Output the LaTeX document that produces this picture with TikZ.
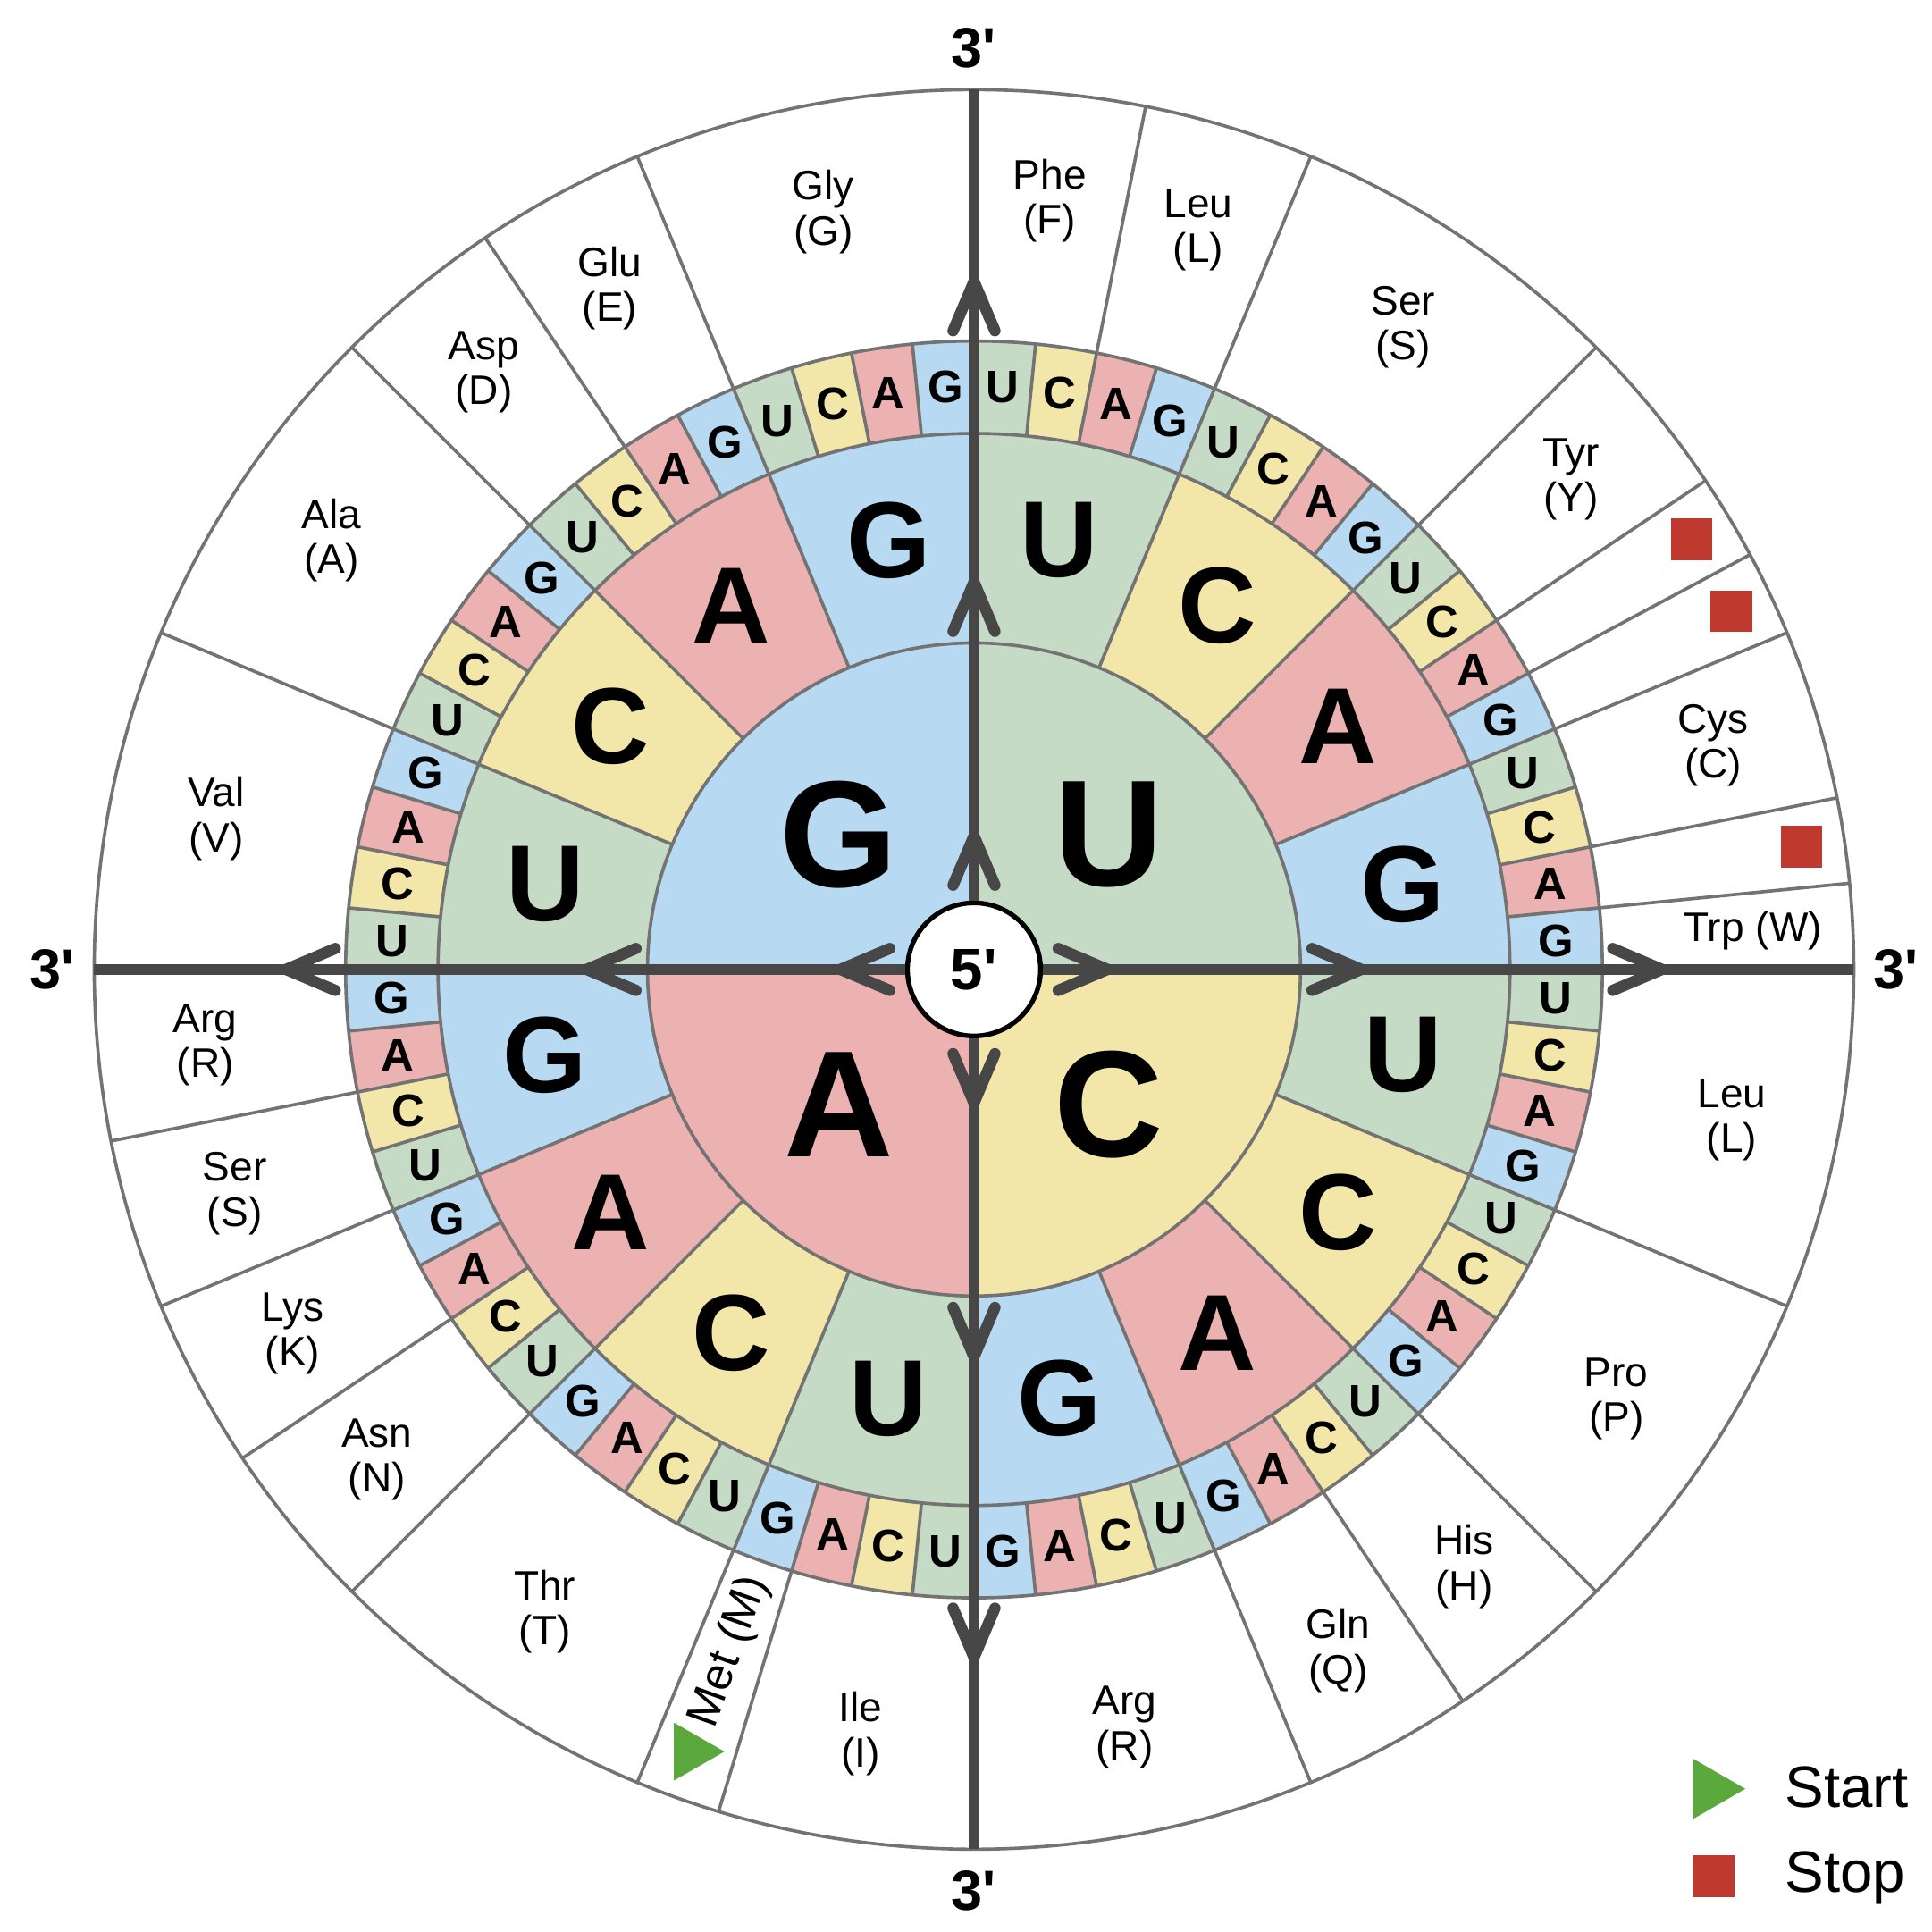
\documentclass[tikz,border=0pt]{standalone}
\usepackage{fontspec}
\setmainfont{Liberation Sans}[Ligatures=TeXOff]
\usetikzlibrary{arrows.meta, decorations.markings}

\definecolor{cU}{HTML}{C6DBC6}
\definecolor{cC}{HTML}{F2E6A9}
\definecolor{cA}{HTML}{ECB1B1}
\definecolor{cG}{HTML}{B8D9F2}
\definecolor{linegray}{HTML}{737373}
\definecolor{axisgray}{HTML}{474747}
\definecolor{stopred}{HTML}{C0392F}
\definecolor{startgreen}{HTML}{5BA83C}

\tikzset{chev/.tip={Straight Barb[length=4mm, width=3.4mm, round]}}

\begin{document}
\begin{tikzpicture}[
  ring/.style={draw=linegray, line width=0.75pt},
  firstletter/.style={font=\fontsize{35}{35}\selectfont\bfseries},
  secondletter/.style={font=\fontsize{25}{25}\selectfont\bfseries},
  thirdletter/.style={font=\fontsize{10.5}{10.5}\selectfont\bfseries},
  amino/.style={font=\fontsize{9.5}{10.4}\selectfont, align=center, inner sep=0pt},
  endlabel/.style={font=\fontsize{13}{13}\selectfont\bfseries},
  legendtext/.style={font=\fontsize{13.5}{13.5}\selectfont, anchor=base west, inner sep=0pt},
  stopmark/.style={fill=stopred, minimum size=0.34cm, inner sep=0pt},
  axisline/.style={draw=axisgray, line width=2.6pt, postaction={decorate},
    decoration={markings,
      mark=at position 0.57cm with {\arrow{chev}},
      mark=at position 2.63cm with {\arrow{chev}},
      mark=at position 5.07cm with {\arrow{chev}}}}
]
\useasboundingbox (-7.905,-7.812) rectangle (7.775,7.868);

% first base: quadrants
\foreach \b [count=\q from 0] in {U,C,A,G} {
  \pgfmathsetmacro\ang{90-90*\q}
  \fill[c\b] (0,0) -- (\ang:2.65) arc[start angle=\ang, delta angle=-90, radius=2.65] -- cycle;
}

% second and third base rings
\foreach \b [count=\q from 0] in {U,C,A,G}
  \foreach \s [count=\j from 0] in {U,C,A,G} {
    \pgfmathsetmacro\ang{90-90*\q-22.5*\j}
    \pgfmathsetmacro\angb{\ang-22.5}
    \fill[c\s] (\ang:2.65) arc[start angle=\ang, delta angle=-22.5, radius=2.65]
      -- (\angb:4.35) arc[start angle=\angb, delta angle=22.5, radius=4.35] -- cycle;
    \foreach \t [count=\k from 0] in {U,C,A,G} {
      \pgfmathsetmacro\angc{\ang-5.625*\k}
      \pgfmathsetmacro\angd{\angc-5.625}
      \fill[c\t] (\angc:4.35) arc[start angle=\angc, delta angle=-5.625, radius=4.35]
        -- (\angd:5.10) arc[start angle=\angd, delta angle=5.625, radius=5.10] -- cycle;
    }
  }

% ring borders
\draw[ring] (0,0) circle[radius=2.65] circle[radius=4.35] circle[radius=5.10] circle[radius=7.14];
\foreach \a in {0,22.5,...,337.5} \draw[ring] (\a:2.65) -- (\a:4.35);
\foreach \a in {0,5.625,...,354.4} \draw[ring] (\a:4.35) -- (\a:5.10);
\foreach \c in {0,11.25,22.5,45,56.25,61.875,67.5,78.75,84.375,90,112.5,135,146.25,157.5,
    180,196.875,202.5,225,236.25,247.5,258.75,270,292.5,315,326.25,337.5}
  \draw[ring] (90-\c:5.10) -- (90-\c:7.14);

% letters
\foreach \b [count=\q from 0] in {U,C,A,G} {
  \node[firstletter] (first-\b) at (45-90*\q:1.55) {\b};
  \foreach \s [count=\j from 0] in {U,C,A,G} {
    \pgfmathsetmacro\ang{90-90*\q-22.5*\j}
    \node[secondletter] (second-\b\s) at (\ang-11.25:3.55) {\s};
    \foreach \t [count=\k from 0] in {U,C,A,G}
      \node[thirdletter] (third-\b\s\t) at (\ang-5.625*\k-2.8125:4.73) {\t};
  }
}

% amino acids
\foreach \c/\txt [count=\n] in {5.625/Phe\\(F), 16.875/Leu\\(L), 33.75/Ser\\(S), 50.625/Tyr\\(Y),
    73.125/Cys\\(C), 101.25/Leu\\(L), 123.75/Pro\\(P), 140.625/His\\(H), 151.875/Gln\\(Q),
    168.75/Arg\\(R), 188.4375/Ile\\(I), 213.75/Thr\\(T), 230.625/Asn\\(N), 241.875/Lys\\(K),
    253.125/Ser\\(S), 264.375/Arg\\(R), 281.25/Val\\(V), 303.75/Ala\\(A), 320.625/Asp\\(D),
    331.875/Glu\\(E), 348.75/Gly\\(G)}
  \node[amino] (aa\n) at (90-\c:6.27) {\txt};
\node[amino] (trp) at (2.81:6.33) {Trp (W)};
\node[amino, font=\fontsize{10.5}{11}\selectfont, rotate=70.3] (met) at (90-199.69:5.88) {Met (M)};

% start and stop marks
\coordinate (metstart) at (90-199.4:6.73);
\fill[startgreen, shift={(metstart)}] (-0.2,0.235) -- (0.21,0) -- (-0.2,-0.235) -- cycle;
\node[stopmark] (stop1) at (30.94:6.79) {};
\node[stopmark] (stop2) at (25.31:6.80) {};
\node[stopmark] (stop3) at (8.44:6.79) {};

% axes
\node[circle, draw=black, line width=1.1pt, fill=white, minimum size=1.08cm, inner sep=0pt,
  font=\fontsize{13.5}{13.5}\selectfont\bfseries] (c5) at (0,0) {5'};
\foreach \d [count=\n] in {90,0,-90,180} {
  \coordinate (tip\n) at (\d:7.14);
  \draw[axisline] (c5) -- (tip\n);
  \node[endlabel] (end\n) at (\d:7.48) {3'};
}

% legend
\coordinate (startkey) at (6.045,-6.65);
\fill[startgreen, shift={(startkey)}] (-0.21,0.245) -- (0.215,0) -- (-0.21,-0.245) -- cycle;
\node[stopmark] (stopkey) at (6.00,-7.36) {};
\node[legendtext] (starttext) at (6.575,-6.80) {Start};
\node[legendtext] (stoptext) at (6.575,-7.49) {Stop};
\end{tikzpicture}
\end{document}
